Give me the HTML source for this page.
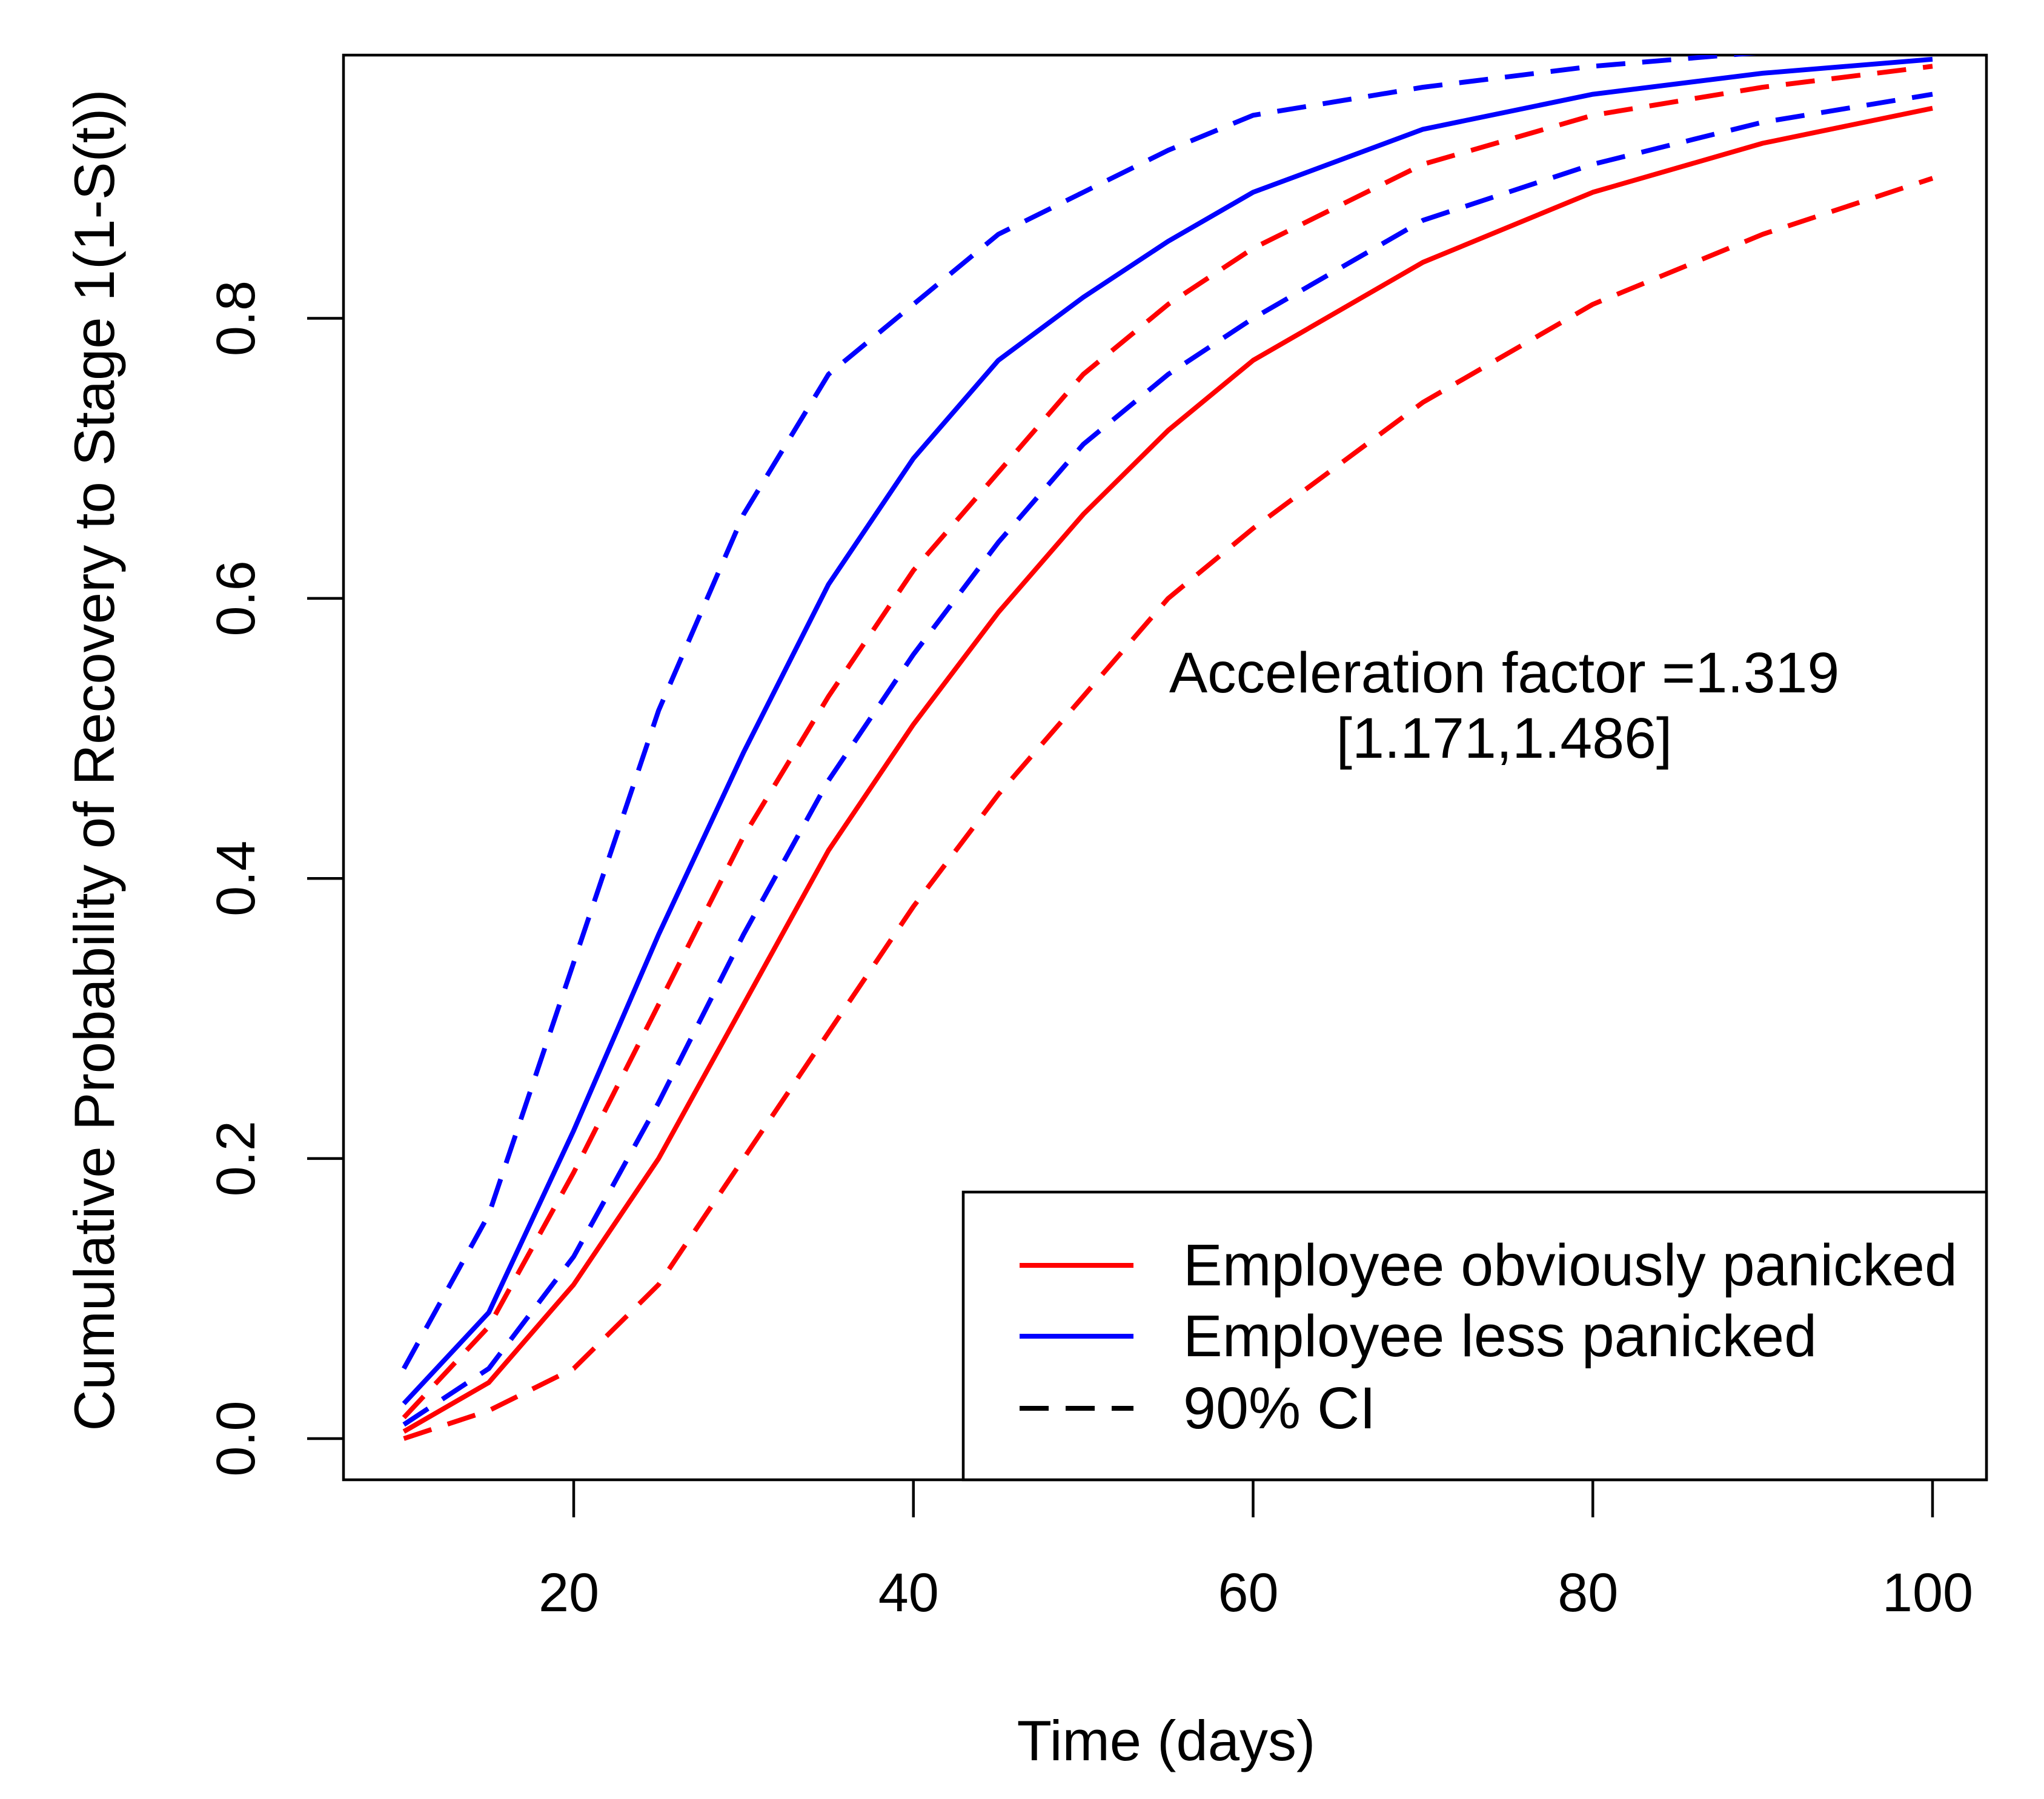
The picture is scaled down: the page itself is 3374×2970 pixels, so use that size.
<!DOCTYPE html>
<html><head><meta charset="utf-8"><style>
html,body{margin:0;padding:0;background:#fff}
svg{display:block}
text{font-family:"Liberation Sans",sans-serif;fill:#000}
</style></head><body>
<svg id="chart" width="3374" height="2970" viewBox="0 0 3374 2970" xmlns="http://www.w3.org/2000/svg">
<defs><clipPath id="plotclip"><rect x="567" y="91" width="2725" height="2359"/></clipPath></defs>
<rect x="567" y="91" width="2712" height="2352" fill="none" stroke="#000" stroke-width="4.5"/>
<g id="xaxis"></g>
<g id="yaxis"></g>
<g id="series" clip-path="url(#plotclip)"></g>
<text x="1925" y="2906" font-size="94" text-anchor="middle">Time (days)</text>
<text x="0" y="0" font-size="94" text-anchor="middle" transform="translate(188,1255) rotate(-90)">Cumulative Probability of Recovery to Stage 1(1-S(t))</text>
<text x="2483" y="1143" font-size="95" text-anchor="middle">Acceleration factor =1.319</text>
<text x="2483" y="1251" font-size="95" text-anchor="middle">[1.171,1.486]</text>
<g>
<rect x="1590" y="1968" width="1689" height="475" fill="#fff" stroke="#000" stroke-width="4.5"/>
<line x1="1683" y1="2089" x2="1871" y2="2089" stroke="#ff0000" stroke-width="8"/>
<text x="1953" y="2122" font-size="97">Employee obviously panicked</text>
<line x1="1683" y1="2206" x2="1871" y2="2206" stroke="#0000ff" stroke-width="8"/>
<text x="1953" y="2239" font-size="97">Employee less panicked</text>
<line x1="1683" y1="2325" x2="1871" y2="2325" stroke="#000" stroke-width="8" stroke-dasharray="48,28"/>
<text x="1953" y="2358" font-size="97">90% CI</text>
</g>
</svg>
<script>
const times = [10,15,20,25,30,35,40,45,50,55,60,70,80,90,100];
const redMain = [0.005,0.04,0.11,0.2,0.31,0.42,0.51,0.59,0.66,0.72,0.77,0.84,0.89,0.925,0.95];
const redUpper = [0.015,0.08,0.19,0.31,0.43,0.53,0.62,0.69,0.76,0.81,0.85,0.91,0.945,0.965,0.98];
const redLower = [0.0,0.02,0.05,0.11,0.2,0.29,0.38,0.46,0.53,0.6,0.65,0.74,0.81,0.86,0.9];
const blueMain = [0.025,0.09,0.22,0.36,0.49,0.61,0.70,0.77,0.815,0.855,0.89,0.935,0.96,0.975,0.985];
const blueUpper = [0.05,0.16,0.34,0.52,0.66,0.76,0.81,0.86,0.89,0.92,0.945,0.965,0.98,0.99,0.995];
const blueLower = [0.01,0.05,0.13,0.24,0.36,0.47,0.56,0.64,0.71,0.76,0.80,0.87,0.91,0.94,0.96];
const xTicks = [20,40,60,80,100];
const yTicks = [0.0,0.2,0.4,0.6,0.8];
const yTickLabels = ["0.0","0.2","0.4","0.6","0.8"];

const NS="http://www.w3.org/2000/svg";
function xs(v){return 947+(v-20)*(3190-947)/80;}
function ys(v){return 2375-v*(2375-525.5)/0.8;}
function mk(tag,parent){const e=document.createElementNS(NS,tag);parent.appendChild(e);return e;}

const xa=document.getElementById('xaxis');
xTicks.forEach(t=>{
  const l=mk('line',xa);
  
  
  l.setAttribute('x1',xs(t));l.setAttribute('x2',xs(t));
  l.setAttribute('y1',2443);l.setAttribute('y2',2505);
  l.setAttribute('stroke','#000');l.setAttribute('stroke-width','4.5');
  const tx=mk('text',xa);
  
  
  tx.setAttribute('x',xs(t)-8);tx.setAttribute('y',2660);
  tx.setAttribute('font-size','90');tx.setAttribute('text-anchor','middle');
  tx.textContent=t;
});
const ya=document.getElementById('yaxis');
yTicks.forEach((t,i)=>{
  const l=mk('line',ya);
  
  
  l.setAttribute('x1',507);l.setAttribute('x2',567);
  l.setAttribute('y1',ys(t));l.setAttribute('y2',ys(t));
  l.setAttribute('stroke','#000');l.setAttribute('stroke-width','4.5');
  const tx=mk('text',ya);
  
  
  tx.setAttribute('font-size','90');tx.setAttribute('text-anchor','middle');
  tx.setAttribute('transform','translate(420,'+ys(t)+') rotate(-90)');
  tx.textContent=yTickLabels[i];
});
const sg=document.getElementById('series');
function draw(vals,color,dashed,name){
  const p=mk('path',sg);
  
  
  p.setAttribute('d',vals.map((v,i)=>(i?'L':'M')+xs(times[i]).toFixed(1)+','+ys(v).toFixed(1)).join(''));
  p.setAttribute('fill','none');p.setAttribute('stroke',color);p.setAttribute('stroke-width','8');
  p.setAttribute('stroke-linejoin','round');
  if(dashed)p.setAttribute('stroke-dasharray','48,28');
}
draw(redLower,'#ff0000',true,'red-ci-lower');
draw(redUpper,'#ff0000',true,'red-ci-upper');
draw(blueLower,'#0000ff',true,'blue-ci-lower');
draw(blueUpper,'#0000ff',true,'blue-ci-upper');
draw(redMain,'#ff0000',false,'red-line-obviously-panicked');
draw(blueMain,'#0000ff',false,'blue-line-less-panicked');
</script>
</body></html>
